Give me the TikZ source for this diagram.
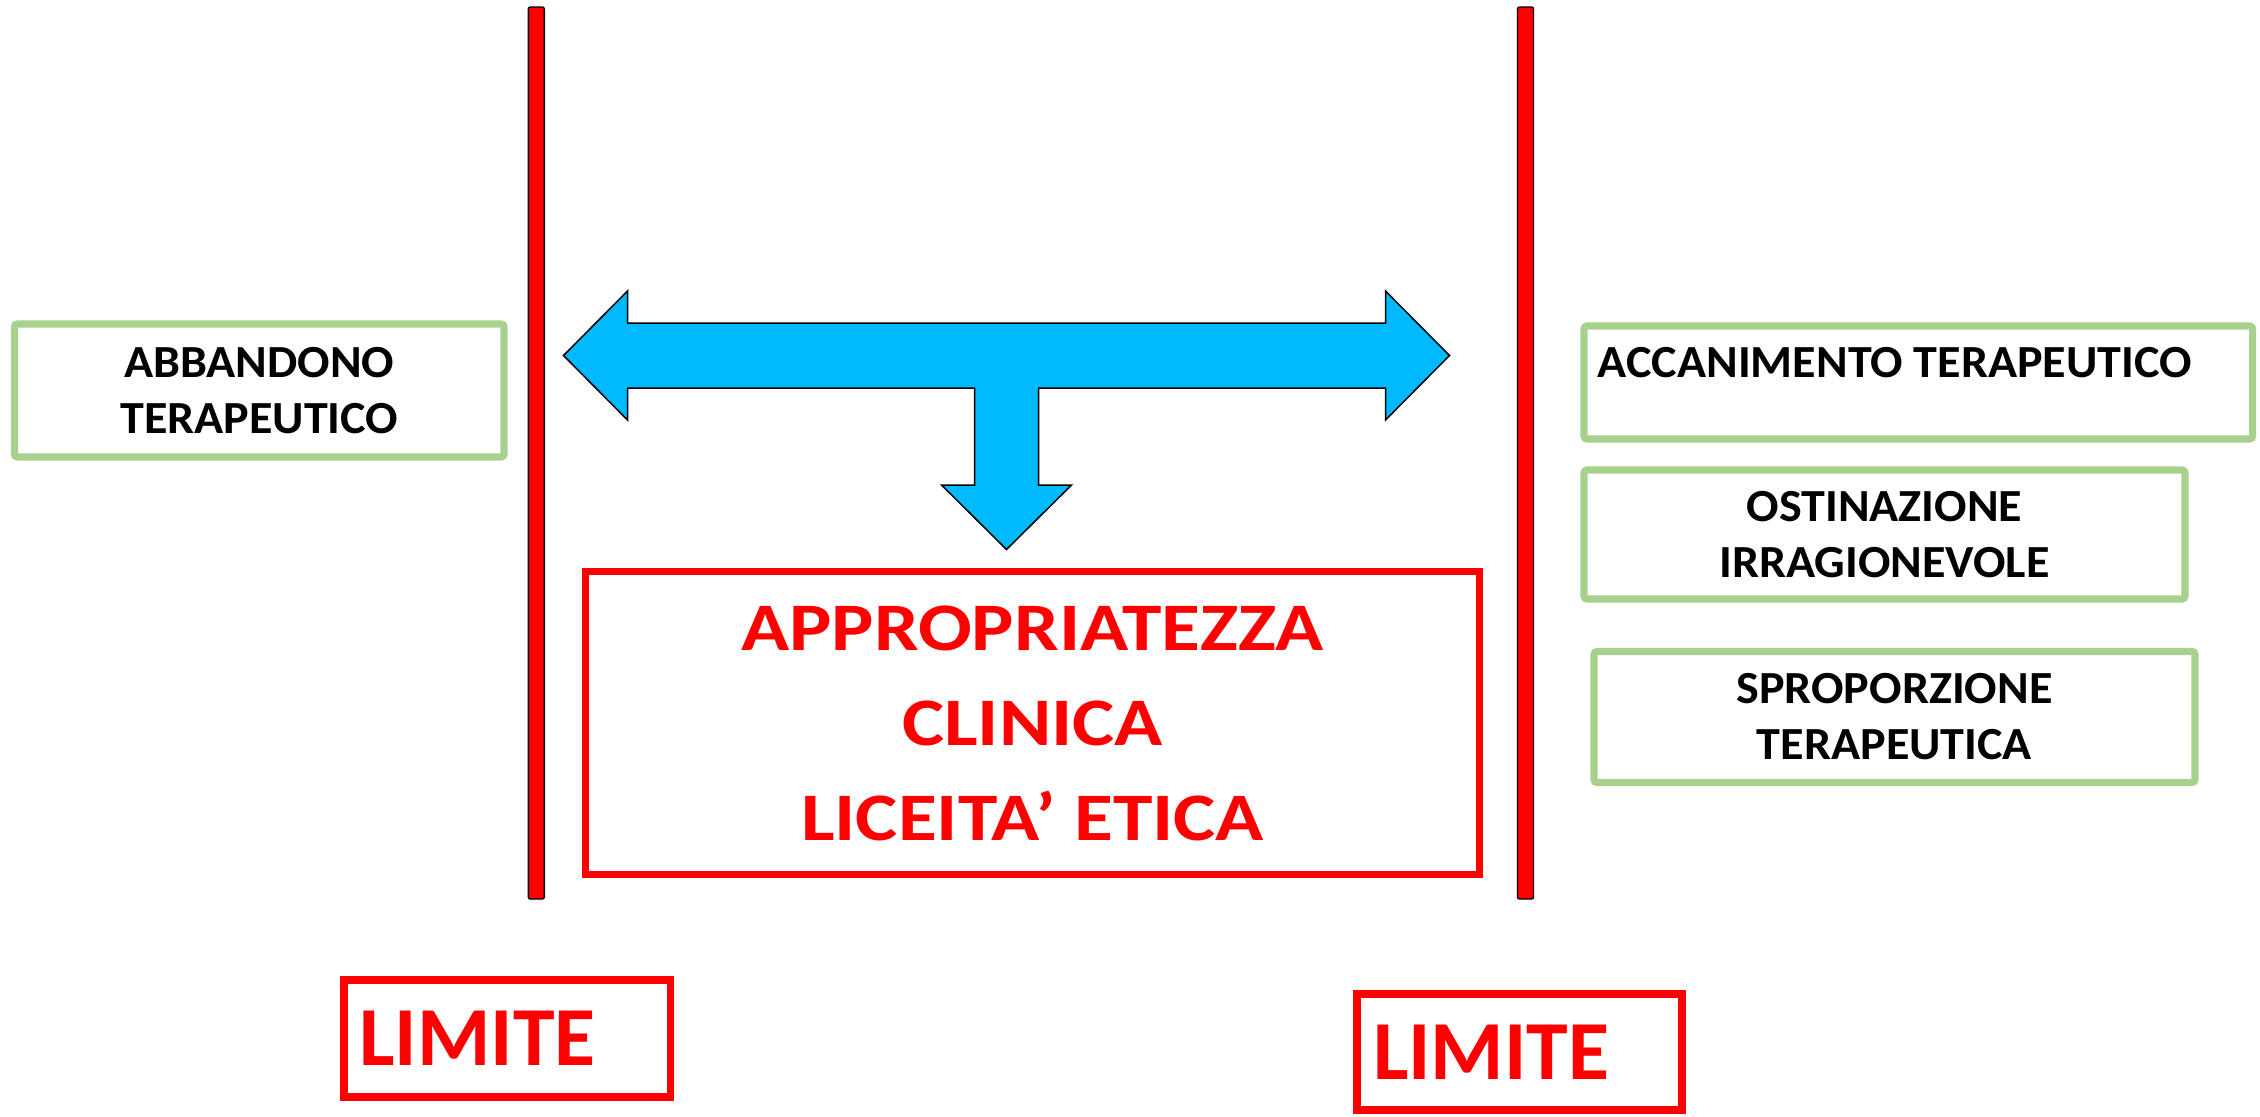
\documentclass[tikz,border=0pt]{standalone}
\usepackage{fontspec}
\setmainfont{Carlito}
\newfontfamily\widefont[FakeStretch=1.17]{Carlito}
\newfontfamily\sidefont[FakeStretch=1.045]{Carlito}
\definecolor{limitred}{RGB}{255,0,0}
\definecolor{boxgreen}{RGB}{169,209,142}
\definecolor{arrowblue}{RGB}{0,185,255}
\tikzset{
  greenbox/.style={draw=boxgreen, line width=3.6pt, rounded corners=1.5pt, inner sep=0pt},
  redbox/.style={draw=limitred, line width=3.6pt, inner sep=0pt},
  sidetext/.style={font=\sidefont\fontsize{23}{28}\selectfont\bfseries, align=center, inner sep=0pt},
  limitetext/.style={font=\fontsize{42}{50}\selectfont\bfseries, text=limitred, align=left},
  bar/.style={fill=limitred, draw=black, line width=0.7pt, rounded corners=1pt,
    minimum width=8pt, minimum height=446pt, inner sep=0pt}
}
\begin{document}
\begin{tikzpicture}[x=0.5pt,y=-0.5pt]
  \useasboundingbox (0,0) rectangle (2260,1116);
  % vertical limits
  \node[bar] (barleft) at (536.3,453) {};
  \node[bar] (barright) at (1525.5,453) {};
  % T arrow
  \filldraw[fill=arrowblue, draw=black, line width=0.75pt]
    (563.5,355.5) -- (627.5,291) -- (627.5,323) -- (1385.5,323) -- (1385.5,291)
    -- (1449.5,355.5) -- (1385.5,420) -- (1385.5,388) -- (1038.5,388) -- (1038.5,485)
    -- (1071.5,485) -- (1006.5,549.5) -- (941.5,485) -- (974.5,485) -- (974.5,388)
    -- (627.5,388) -- (627.5,420) -- cycle;
  % central box
  \node[redbox, minimum width=447pt, minimum height=151.5pt,
    font=\widefont\fontsize{34}{47.5}\selectfont\bfseries, text=limitred, align=center]
    (approp) at (1032.5,723) {APPROPRIATEZZA\\CLINICA\\LICEITA’ ETICA};
  % left side
  \node[greenbox, sidetext, minimum width=244.75pt, minimum height=66.5pt]
    (abband) at (259.25,390.5) {ABBANDONO\\TERAPEUTICO};
  % right side
  \node[greenbox, minimum width=334.3pt, minimum height=56.5pt] (accan) at (1918.3,382.5) {};
  \node[sidetext, anchor=west] (accantext) at ([xshift=8.5pt,yshift=9.75pt]accan.west)
    {ACCANIMENTO TERAPEUTICO};
  \node[greenbox, sidetext, minimum width=300.5pt, minimum height=64.5pt]
    (ostin) at (1884.5,534.5) {OSTINAZIONE\\IRRAGIONEVOLE};
  \node[greenbox, sidetext, minimum width=300.5pt, minimum height=65.5pt]
    (sprop) at (1894.5,717) {SPROPORZIONE\\TERAPEUTICA};
  % limits
  \node[redbox, limitetext, minimum width=163.25pt, minimum height=58.5pt,
    text width=148pt, inner xsep=7.6pt] (limleft) at (507.25,1038.5) {LIMITE};
  \node[redbox, limitetext, minimum width=162.5pt, minimum height=58pt,
    text width=146.5pt, inner xsep=8pt] (limright) at (1519.5,1052) {LIMITE};
\end{tikzpicture}
\end{document}
